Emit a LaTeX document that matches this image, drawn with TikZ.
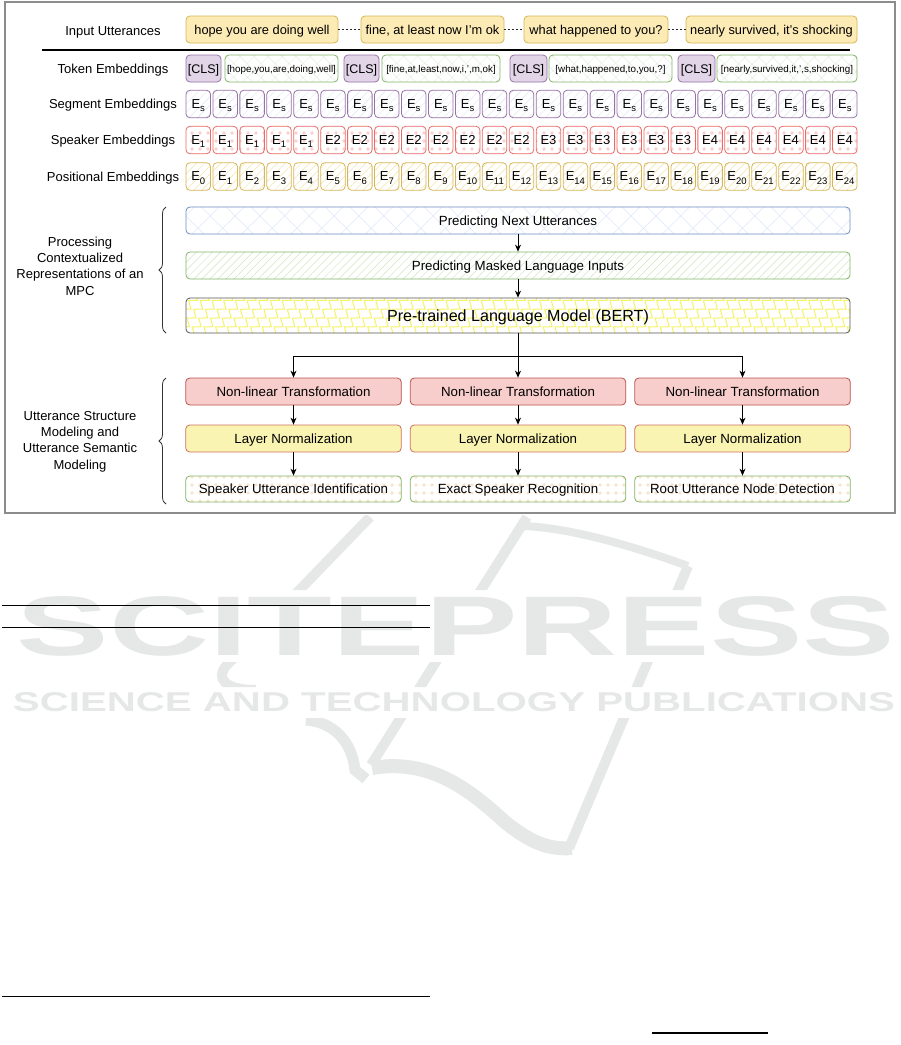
\documentclass[tikz,border=0pt]{standalone}
\usepackage{fontspec}
\setmainfont{Liberation Sans}
\usetikzlibrary{patterns.meta,arrows.meta,decorations.pathreplacing,decorations.pathmorphing}
\definecolor{uttfill}{HTML}{FDEBB6}
\definecolor{uttdraw}{HTML}{D6B656}
\definecolor{clsfill}{HTML}{E1D5E7}
\definecolor{clsdraw}{HTML}{9673A6}
\definecolor{grdraw}{HTML}{82B366}
\definecolor{tokhatch}{HTML}{DCE8D6}
\definecolor{seghatch}{HTML}{DDE5F6}
\definecolor{spkdraw}{HTML}{EA6B66}
\definecolor{spkdot}{HTML}{F9CFCF}
\definecolor{poshatch}{HTML}{F3E4A6}
\definecolor{bluedraw}{HTML}{6C8EBF}
\definecolor{bluehatch}{HTML}{DFE7FA}
\definecolor{greenhatch}{HTML}{CDE8BE}
\definecolor{bertdraw}{HTML}{555555}
\definecolor{zzcol}{HTML}{F6F266}
\definecolor{nlfill}{HTML}{F8CECC}
\definecolor{nldraw}{HTML}{B85450}
\definecolor{lnfill}{HTML}{FAF4B2}
\definecolor{lndraw}{HTML}{D0705F}
\definecolor{outdot}{HTML}{FCE3C9}
\definecolor{framec}{HTML}{8C8C8C}
\definecolor{bracec}{HTML}{333333}
\definecolor{wmcol}{HTML}{E6E8E7}
\newcommand\esub[1]{\raisebox{-0.45ex}{\fontsize{9.5}{10}\selectfont #1}}
\tikzset{
  box/.style={rounded corners=4pt, inner sep=0pt, line width=0.8pt, align=center, text depth=0pt},
  uttbox/.style={box, fill=uttfill, draw=uttdraw, minimum height=27pt, font=\fontsize{12.8}{14}\selectfont},
  clsbox/.style={box, fill=clsfill, draw=clsdraw, minimum width=35pt, minimum height=27pt, font=\fontsize{12.5}{14}\selectfont},
  tokbox/.style={box, draw=grdraw, pattern={Hatch[angle=45,distance=10.5pt,line width=0.5pt]}, pattern color=tokhatch, minimum height=27pt, font=\fontsize{9.8}{11}\selectfont},
  sbox/.style={box, minimum width=24.5pt, minimum height=27.5pt, font=\fontsize{13}{14}\selectfont},
  segbox/.style={sbox, draw=clsdraw, pattern={Lines[angle=45,distance=6pt,line width=0.4pt]}, pattern color=seghatch},
  spkbox/.style={sbox, draw=spkdraw, pattern={Dots[distance=8pt,radius=1.8pt]}, pattern color=spkdot},
  posbox/.style={sbox, draw=uttdraw, pattern={Lines[angle=45,distance=5.7pt,line width=0.5pt]}, pattern color=poshatch},
  lab/.style={align=center, inner sep=0pt, font=\fontsize{13}{16.3}\selectfont},
  rowlab/.style={lab, text depth=0pt},
  wide/.style={box, minimum width=664pt, minimum height=27pt, font=\fontsize{13.3}{15}\selectfont},
  colbox/.style={box, minimum width=215.5pt, minimum height=27pt, font=\fontsize{13.3}{15}\selectfont},
  nlbox/.style={colbox, fill=nlfill, draw=nldraw},
  lnbox/.style={colbox, fill=lnfill, draw=lndraw},
  outbox/.style={colbox, draw=grdraw, minimum height=26pt, pattern={Dots[distance=8pt,radius=1.8pt]}, pattern color=outdot},
  arr/.style={-{Stealth[length=7pt,width=6pt]}, line width=0.8pt, black},
  dotline/.style={line width=1.6pt, dash pattern=on 1.6pt off 2.4pt, black!85},
  bracestyle/.style={decorate, decoration={brace,amplitude=7pt}, line width=0.8pt, draw=bracec},
  wmtext/.style={inner sep=0pt, anchor=center},
}
\newcommand\wmA{\resizebox{878pt}{59pt}{\bfseries SCITEPRESS}}
\newcommand\wmB{\resizebox{882pt}{19pt}{\bfseries SCIENCE AND TECHNOLOGY PUBLICATIONS}}
\begin{document}
\begin{tikzpicture}[x=1pt,y=-1pt]
\useasboundingbox (0,0) rectangle (901,1045);
\fill[white] (0,0) rectangle (901,1045);

% ---------- watermark ----------
\begin{scope}
  \clip (0,515) rectangle (901,590) (0,662) rectangle (901,687) (0,718) rectangle (901,1045);
  \begin{scope}[draw=wmcol, line width=10pt]
    \draw (370,517) -- (226,666) .. controls (216,678) and (224,690) .. (256,690);
    \draw (527,517) -- (371,765);
    \draw[line width=8pt] (524,526) .. controls (570,528) and (630,545) .. (688,566);
    \draw (688,566) -- (569,848);
    \draw[line width=11pt] (306,720) .. controls (334,722) and (352,742) .. (355,770) -- (366,779);
    \draw[line width=14pt] (372,768) .. controls (430,758) and (470,790) .. (505,822) .. controls (530,842) and (548,850) .. (572,848);
  \end{scope}
\end{scope}
\node[wmtext, text=wmcol] (wm1) at (456,626.5) {\wmA};
\node[wmtext, text=wmcol] (wm2) at (454,702.5) {\wmB};

% page rules
\draw[line width=0.8pt] (2,605) -- (430,605);
\draw[line width=0.8pt] (2,627) -- (430,627);
\draw[line width=0.8pt] (2,996) -- (430,996);
\draw[line width=2pt] (652,1033) -- (768,1033);

% ---------- frame ----------
\draw[framec, line width=1.2pt] (5,2) rectangle (895,513);

% ---------- row labels ----------
\node[rowlab] (lu) at (113,31) {Input Utterances};
\node[rowlab] (lt) at (113,68.5) {Token Embeddings};
\node[rowlab] (ls) at (113,104) {Segment Embeddings};
\node[rowlab] (lsp) at (113,140) {Speaker Embeddings};
\node[rowlab] (lpo) at (113,176.5) {Positional Embeddings};

% ---------- utterances ----------
\node[uttbox, minimum width=152pt] (u1) at (262,29.5) {hope you are doing well};
\node[uttbox, minimum width=143pt] (u2) at (432.5,29.5) {fine, at least now I'm ok};
\node[uttbox, minimum width=144pt] (u3) at (596,29.5) {what happened to you?};
\node[uttbox, minimum width=171pt] (u4) at (771.5,29.5) {nearly survived, it's shocking};
\draw[dotline] (u1.east) -- (u2.west);
\draw[dotline] (u2.east) -- (u3.west);
\draw[dotline] (u3.east) -- (u4.west);

\coordinate (hl1) at (42,50);
\coordinate (hl2) at (850,50);
\draw[line width=1.5pt] (hl1) -- (hl2);

% ---------- tokens ----------
\node[clsbox] (c1) at (203.5,68.5) {[CLS]};
\node[tokbox, minimum width=113pt] (t1) at (281.5,68.5) {[hope,you,are,doing,well]};
\node[clsbox] (c2) at (361.5,68.5) {[CLS]};
\node[tokbox, minimum width=118pt] (t2) at (441,68.5) {[fine,at,least,now,i,',m,ok]};
\node[clsbox, minimum width=37pt] (c3) at (528.5,68.5) {[CLS]};
\node[tokbox, minimum width=123pt] (t3) at (610.5,68.5) {[what,happened,to,you,?]};
\node[clsbox, minimum width=37pt] (c4) at (696.5,68.5) {[CLS]};
\node[tokbox, minimum width=140pt] (t4) at (787,68.5) {[nearly,survived,it,',s,shocking]};

% ---------- embedding rows ----------
\foreach \i in {0,...,24} {
  \pgfmathsetmacro\cx{198.25+\i*26.94}
  \node[segbox] (s\i) at (\cx,104) {E\esub{s}};
  \node[spkbox] (p\i) at (\cx,140) {\ifnum\i<5 E\esub{1}\else\ifnum\i<13 E2\else\ifnum\i<19 E3\else E4\fi\fi\fi};
  \node[posbox] (q\i) at (\cx,176.5) {E\esub{\i}};
}

% ---------- middle block ----------
\node[wide, draw=bluedraw, pattern={Hatch[angle=45,distance=17.5pt,line width=0.5pt]}, pattern color=bluehatch] (pn) at (518,220.5) {Predicting Next Utterances};
\node[wide, draw=grdraw, pattern={Lines[angle=45,distance=5.7pt,line width=0.5pt]}, pattern color=greenhatch] (pm) at (518,265.5) {Predicting Masked Language Inputs};
\begin{scope}
  \clip[rounded corners=4pt] (186,298) rectangle (850,333);
  \foreach \x in {140,151.7,...,870} {
    \draw[zzcol, line width=1pt, decorate, decoration={zigzag,amplitude=3.5pt,segment length=11pt}] (\x,340) -- ++(36,-48);
  }
\end{scope}
\node[box, draw=bertdraw, minimum width=664pt, minimum height=35pt, font=\fontsize{16.1}{18}\selectfont] (bert) at (518,315.5) {Pre-trained Language Model (BERT)};
\draw[arr] (pn) -- (pm);
\draw[arr] (pm) -- (bert);

% ---------- lower block ----------
\node[nlbox] (nl1) at (293.5,391.5) {Non-linear Transformation};
\node[nlbox] (nl2) at (518,391.5) {Non-linear Transformation};
\node[nlbox] (nl3) at (742.5,391.5) {Non-linear Transformation};
\node[lnbox] (ln1) at (293.5,438.5) {Layer Normalization};
\node[lnbox] (ln2) at (518,438.5) {Layer Normalization};
\node[lnbox] (ln3) at (742.5,438.5) {Layer Normalization};
\node[outbox] (o1) at (293.5,489) {Speaker Utterance Identification};
\node[outbox] (o2) at (518,489) {Exact Speaker Recognition};
\node[outbox] (o3) at (742.5,489) {Root Utterance Node Detection};

\coordinate (jn) at (518,356);
\draw[line width=0.8pt] (bert.south) -- (jn);
\draw[arr] (jn) -| (nl1.north);
\draw[arr] (jn) -- (nl2.north);
\draw[arr] (jn) -| (nl3.north);
\foreach \k in {1,2,3} {
  \draw[arr] (nl\k) -- (ln\k);
  \draw[arr] (ln\k) -- (o\k);
}

% ---------- braces and side labels ----------
\coordinate (b1a) at (166,333);
\coordinate (b1b) at (166,207);
\draw[bracestyle] (b1a) -- (b1b);
\node[lab] (lproc) at (80,266) {Processing\\Contextualized\\Representations of an\\MPC};
\coordinate (b2a) at (166,504);
\coordinate (b2b) at (166,378);
\draw[bracestyle] (b2a) -- (b2b);
\node[lab] (lutt) at (80,441.5) {Utterance Structure\\Modeling and\\Utterance Semantic\\Modeling};
\end{tikzpicture}
\end{document}
